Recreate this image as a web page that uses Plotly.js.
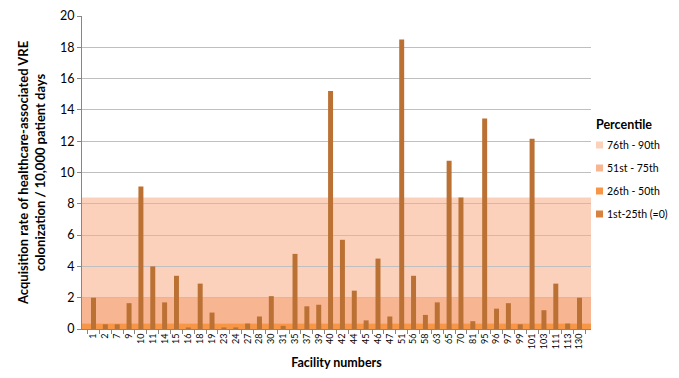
<!DOCTYPE html>
<html><head><meta charset="utf-8">
<script src="https://cdn.plot.ly/plotly-3.0.1.min.js"></script>
<style>body{margin:0;background:#fff}</style>
</head><body>
<div id="chart" style="width:679px;height:378px"></div>
<script>
const facilities = ["1","2","7","9","10","11","14","15","16","18","19","23","24","27","28","30","31","35","37","39","40","42","44","45","46","47","51","56","58","63","65","70","81","95","96","97","99","101","103","111","113","130"];
const rates = [2.0,0.3,0.3,1.65,9.1,4.0,1.7,3.4,0.1,2.9,1.05,0.1,0.1,0.35,0.8,2.1,0.2,4.8,1.45,1.55,15.2,5.7,2.45,0.55,4.5,0.8,18.5,3.4,0.9,1.7,10.75,8.4,0.5,13.45,1.3,1.65,0.3,12.15,1.2,2.9,0.35,2.0];
const bandNames = ["76th - 90th","51st - 75th","26th - 50th","1st-25th (=0)"];
const bandTops = [8.4, 2.05, 0.37, 0];
const bandColors = ["#FBD1BB","#F8B592","#F79646","#D9823F"];

const W=679,H=378,L=82,R=88,T=16,B=49;
const pw=W-L-R, ph=H-T-B;
const px=x=>(x-L)/pw, py=y=>(H-B-y)/ph;
const font="Lato, 'Open Sans', sans-serif";

const shapes=[];
for(let i=0;i<3;i++){
  shapes.push({type:"rect",xref:"paper",yref:"y",x0:0,x1:1,y0:bandTops[i+1],y1:bandTops[i],
    fillcolor:bandColors[i],line:{width:0},layer:"between"});
}
const annotations=[{xref:"paper",yref:"paper",x:px(594),y:py(125),xanchor:"left",yanchor:"middle",
  text:"<b>Percentile</b>",showarrow:false,font:{family:font,size:12.5,color:"#000"}}];
const legY=[145,168,191,214];
for(let i=0;i<4;i++){
  shapes.push({type:"rect",xref:"paper",yref:"paper",x0:px(596),x1:px(603),y0:py(legY[i]+3.5),y1:py(legY[i]-3.5),
    fillcolor:bandColors[i],line:{width:0}});
  annotations.push({xref:"paper",yref:"paper",x:px(605),y:py(legY[i]),xanchor:"left",yanchor:"middle",
    text:bandNames[i],showarrow:false,font:{family:font,size:10.5,color:"#000"}});
}

const n=facilities.length;
const data=[{type:"bar",x:facilities,y:rates,marker:{color:"#BA7133"},hoverinfo:"x+y",showlegend:false}];
const layout={width:W,height:H,margin:{l:L,r:R,t:T,b:B},paper_bgcolor:"#fff",plot_bgcolor:"#fff",
  bargap:0.58,showlegend:false,font:{family:font,color:"#000"},
  xaxis:{type:"category",range:[-0.97,n-1+0.97],tickangle:-90,tickson:"boundaries",ticks:"outside",ticklen:4,tickcolor:"#868686",
    showline:true,linecolor:"#868686",tickfont:{size:9,family:font},showgrid:false,
    title:{text:"<b>Facility numbers</b>",font:{size:12.5,family:font},standoff:9}},
  yaxis:{range:[0,20],dtick:2,showgrid:true,gridcolor:"#BFBFBF",showline:true,linecolor:"#868686",
    ticks:"outside",ticklen:4,tickcolor:"#868686",tickfont:{size:12.5,family:font},zeroline:false,
    title:{text:"<b>Acquisition rate of healthcare-associated VRE<br>colonization / 10,000 patient days</b>",font:{size:13,family:font},standoff:11}},
  shapes:shapes,annotations:annotations};
Plotly.newPlot("chart",data,layout,{displayModeBar:false,staticPlot:true});
</script>
</body></html>
